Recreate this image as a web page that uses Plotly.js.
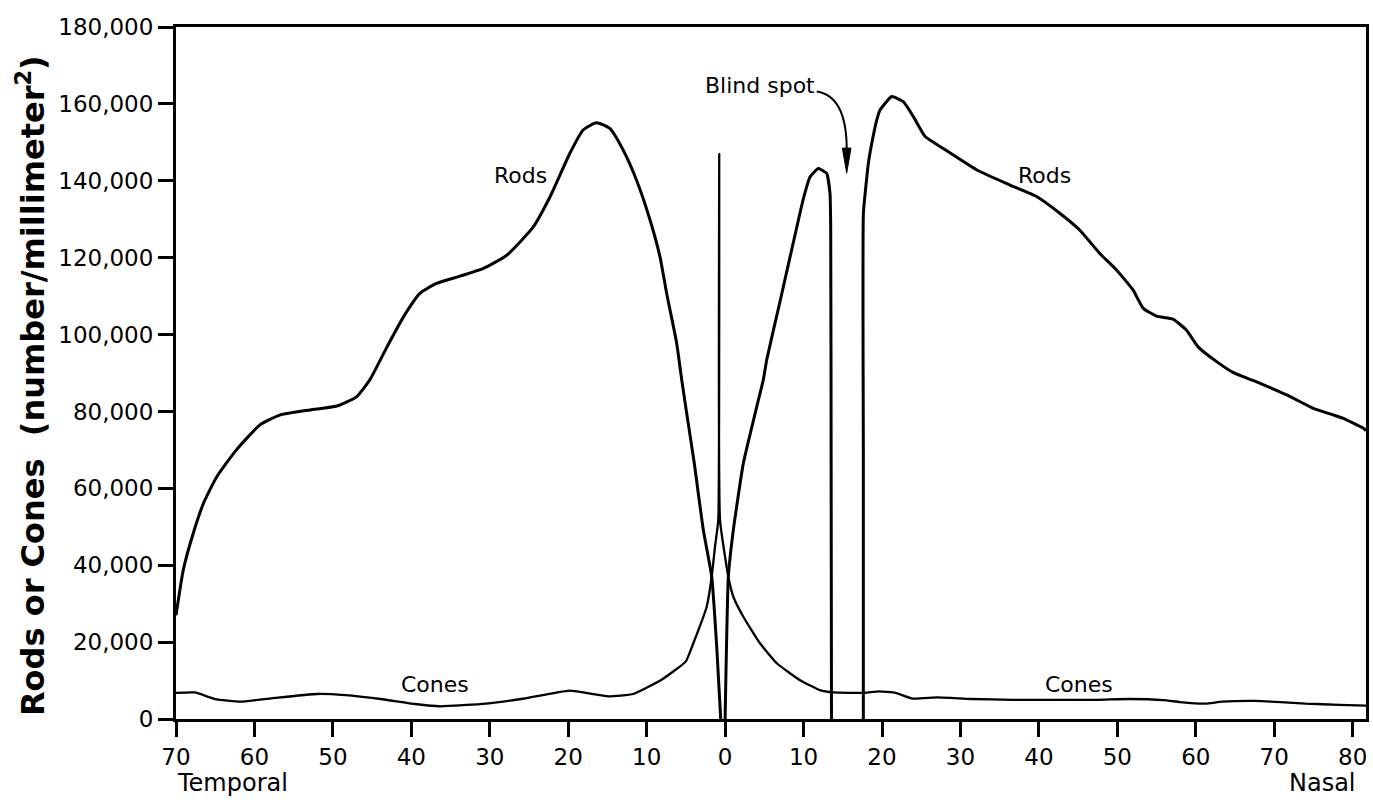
<!DOCTYPE html>
<html>
<head>
<meta charset="utf-8">
<script src="https://cdn.plot.ly/plotly-3.0.1.min.js"></script>
<style>html,body{margin:0;padding:0;background:#fff;}#chart{width:1373px;height:800px;}</style>
</head>
<body>
<div id="chart"></div>
<script>
// Eccentricity in degrees: negative = temporal, positive = nasal
const rodsTemporalX = [-70, -69.07, -67.8, -66.5, -64.8, -62.3, -59.3, -56.7, -52.9, -49.5, -47.0, -45.3, -43.1, -41.0, -38.9, -36.8, -33.8, -30.8, -27.8, -24.45, -22.3, -19.8, -18.1, -16.4, -14.7, -13.0, -11.3, -9.57, -8.3, -7.45, -6.17, -5.53, -4.77, -3.93, -2.78, -1.71, -1.07, -0.56];
const rodsTemporalY = [27000, 38800, 48300, 56100, 63000, 70000, 76500, 79100, 80400, 81400, 83800, 88200, 96800, 104600, 110700, 113300, 115200, 117200, 120700, 128000, 135900, 147100, 153200, 155100, 153600, 148000, 140200, 129800, 120200, 110700, 97700, 88200, 77800, 66500, 49200, 37000, 18800, 0];

// nasal rods, fovea to the blind spot
const rodsNasalInnerX = [0.0, 0.41, 1.05, 2.32, 4.03, 4.87, 5.3, 7.0, 8.69, 9.97, 10.82, 11.88, 12.95, 13.37, 13.46, 13.52, 13.56];
const rodsNasalInnerY = [0, 37000, 49200, 66500, 81200, 88200, 93400, 108600, 123900, 135300, 141000, 143200, 141900, 136700, 128000, 60000, 0];
// nasal rods, beyond the blind spot
const rodsNasalOuterX = [17.62, 17.62, 17.63, 18.26, 18.69, 19.33, 19.75, 21.24, 22.72, 24.0, 25.5, 27.8, 32.1, 36.3, 39.7, 42.7, 45.2, 47.8, 49.9, 52.0, 53.3, 55.0, 57.1, 58.8, 60.3, 62.7, 64.8, 68.2, 71.6, 75.0, 77.5, 78.8, 81.4, 81.7];
const rodsNasalOuterY = [0, 70000, 131500, 144500, 149700, 155800, 158400, 161900, 160600, 156700, 151500, 148400, 142800, 138900, 135900, 131500, 127200, 121000, 116800, 111600, 106800, 104800, 104000, 101200, 96800, 92900, 90100, 87300, 84300, 80800, 79100, 78200, 75600, 75000];

const conesX = [-70, -67.6, -65.0, -61.8, -57.3, -52.0, -48.4, -43.9, -39.5, -36.3, -30.5, -26.0, -19.8, -14.9, -11.7, -8.1, -5.0, -4.05, -2.35, -1.71, -1.29, -0.87, -0.75, -0.65, 0.41, 1.05, 2.32, 4.45, 6.58, 9.55, 12.1, 13.76, 17.76, 19.62, 21.75, 23.9, 27.1, 31.35, 36.7, 42.0, 47.4, 51.6, 55.9, 58.0, 61.2, 63.35, 67.6, 70.8, 74.0, 78.3, 81.7];
const conesY = [6800, 6900, 5200, 4500, 5500, 6500, 6200, 5200, 3900, 3300, 4000, 5200, 7400, 5900, 6500, 10200, 15000, 19700, 29200, 37000, 44800, 51800, 147000, 51800, 37000, 31800, 26600, 19700, 14500, 10100, 7500, 6900, 6800, 7200, 6800, 5300, 5600, 5200, 5000, 5000, 5000, 5200, 4900, 4400, 4000, 4500, 4700, 4400, 4000, 3700, 3500];

const xTickVals = [-70, -60, -50, -40, -30, -20, -10, 0, 10, 20, 30, 40, 50, 60, 70, 80];
const xTickText = ['70', '60', '50', '40', '30', '20', '10', '0', '10', '20', '30', '40', '50', '60', '70', '80'];
const yTickVals = [0, 20000, 40000, 60000, 80000, 100000, 120000, 140000, 160000, 180000];

const FONT = 'DejaVu Sans, Liberation Sans, Arial, sans-serif';

function curve(x, y, w, s, name) {
  return {x: x, y: y, type: 'scatter', mode: 'lines', name: name,
    line: {color: '#000', width: w, shape: 'spline', smoothing: s}, hoverinfo: 'skip'};
}

const traces = [
  curve(rodsTemporalX, rodsTemporalY, 3, 0.5, 'Rods (temporal)'),
  curve(rodsNasalInnerX, rodsNasalInnerY, 3, 0.4, 'Rods (nasal, inner)'),
  curve(rodsNasalOuterX, rodsNasalOuterY, 3, 0.4, 'Rods (nasal, outer)'),
  curve(conesX, conesY, 2.3, 0.4, 'Cones')
];

const axisCommon = {
  showline: true, linecolor: '#000', linewidth: 3, mirror: true,
  ticks: 'outside', ticklen: 15, tickwidth: 3, tickcolor: '#000',
  showgrid: false, zeroline: false,
  tickfont: {family: FONT, size: 23, color: '#000'}
};

const layout = {
  width: 1373, height: 800,
  margin: {l: 176, r: 7, t: 27, b: 81, pad: 0},
  paper_bgcolor: '#fff', plot_bgcolor: '#fff',
  showlegend: false,
  xaxis: Object.assign({}, axisCommon, {
    range: [-70, 81.7], tickmode: 'array', tickvals: xTickVals, ticktext: xTickText
  }),
  yaxis: Object.assign({}, axisCommon, {
    range: [0, 180000], tickmode: 'array', tickvals: yTickVals, tickformat: ','
  }),
  shapes: [
    {type: 'path', xref: 'x', yref: 'y',
     path: 'M 11.68,163200 C 14.6,162300 15.55,156000 15.5,147500',
     line: {color: '#000', width: 2}},
    {type: 'path', xref: 'x', yref: 'y',
     path: 'M 14.95,148500 L 16.05,148500 L 15.5,142000 Z',
     fillcolor: '#000', line: {color: '#000', width: 1}}
  ],
  annotations: [
    {text: '<b>Rods or Cones\u00a0\u00a0(number/millimeter<sup>2</sup>)</b>', xref: 'paper', yref: 'paper',
     x: -0.1218, y: 0.4812, xanchor: 'center', yanchor: 'middle', textangle: -90, showarrow: false,
     font: {family: FONT, size: 32, color: '#000'}},
    {text: 'Temporal', xref: 'paper', yref: 'paper', x: -0.0008, y: -0.0925, xanchor: 'left', yanchor: 'middle',
     showarrow: false, font: {family: FONT, size: 24, color: '#000'}},
    {text: 'Nasal', xref: 'paper', yref: 'paper', x: 0.9933, y: -0.0925, xanchor: 'right', yanchor: 'middle',
     showarrow: false, font: {family: FONT, size: 24, color: '#000'}},
    {text: 'Rods', x: -26.1, y: 141400, xref: 'x', yref: 'y', showarrow: false,
     font: {family: FONT, size: 22, color: '#000'}},
    {text: 'Rods', x: 40.66, y: 141400, xref: 'x', yref: 'y', showarrow: false,
     font: {family: FONT, size: 22, color: '#000'}},
    {text: 'Cones', x: -36.98, y: 9100, xref: 'x', yref: 'y', showarrow: false,
     font: {family: FONT, size: 22, color: '#000'}},
    {text: 'Cones', x: 45.05, y: 9100, xref: 'x', yref: 'y', showarrow: false,
     font: {family: FONT, size: 22, color: '#000'}},
    {text: 'Blind spot', x: 4.4, y: 164800, xref: 'x', yref: 'y', showarrow: false,
     font: {family: FONT, size: 22, color: '#000'}}
  ]
};

Plotly.newPlot('chart', traces, layout, {staticPlot: true, displayModeBar: false});
</script>
</body>
</html>
